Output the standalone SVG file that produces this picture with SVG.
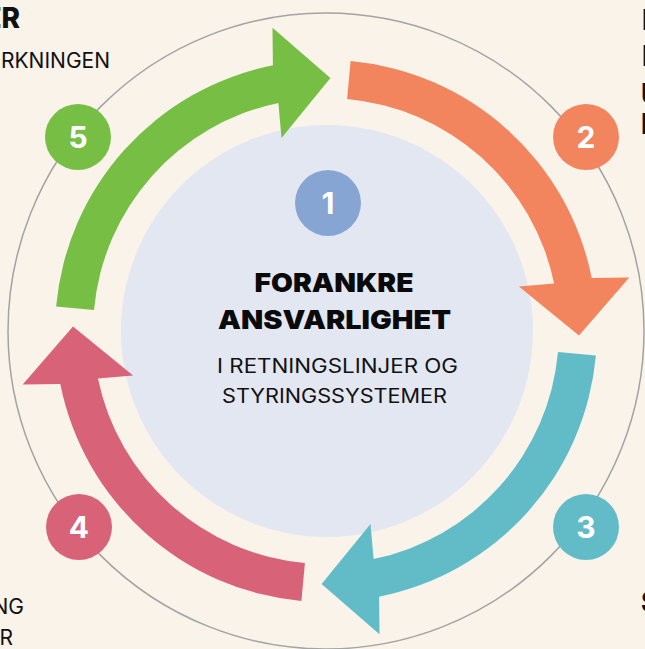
<svg xmlns="http://www.w3.org/2000/svg" width="645" height="649" viewBox="0 0 645 649">
<style>
.badge-num{font-family:Inter,"Liberation Sans",sans-serif;font-weight:700;font-size:30px;fill:#ffffff;text-anchor:middle}
.title{font-family:Inter,"Liberation Sans",sans-serif;font-weight:900;font-size:26px;fill:#0a0a0a;text-anchor:middle}
.sub{font-family:Inter,"Liberation Sans",sans-serif;font-weight:400;font-size:19.5px;fill:#111111;text-anchor:middle}
.side{font-family:Inter,"Liberation Sans",sans-serif;font-weight:400;font-size:21px;fill:#111111}
.side-b{font-family:Inter,"Liberation Sans",sans-serif;font-weight:800;font-size:28px;fill:#111111}
</style>
<defs>
<path id="arrow" d="M56.1,306.4 A271,271 0 0 1 272.9,65.3 L272.5,27.7 L330.4,78.0 L281.5,138.1 L278.4,102.9 A233,233 0 0 0 94.0,309.9 Z"/>
</defs>
<rect width="645" height="649" fill="#f9f3ea"/>
<g id="ring">
<circle cx="326" cy="331" r="318" fill="none" stroke="#a3a3a3" stroke-width="1.5"/>
</g>
<g id="center-node">
<circle cx="327" cy="331" r="206" fill="#e3e7f2"/>
</g>
<g id="connectors">
<use href="#arrow" fill="#76bf44"/>
<use href="#arrow" fill="#f2845e" transform="rotate(90 326 331)"/>
<use href="#arrow" fill="#62bcc7" transform="rotate(180 326 331)"/>
<use href="#arrow" fill="#d86278" transform="rotate(270 326 331)"/>
</g>
<g id="center-text">
<text class="title" x="334" y="292" textLength="159" lengthAdjust="spacingAndGlyphs">FORANKRE</text>
<text class="title" x="334.5" y="329" textLength="233" lengthAdjust="spacingAndGlyphs">ANSVARLIGHET</text>
<text class="sub" x="337.5" y="373" textLength="241" lengthAdjust="spacingAndGlyphs">I RETNINGSLINJER OG</text>
<text class="sub" x="334.5" y="403" textLength="225" lengthAdjust="spacingAndGlyphs">STYRINGSSYSTEMER</text>
</g>
<g id="badge-1"><circle cx="328" cy="203" r="33" fill="#87a5d2"/><text class="badge-num" x="328" y="214">1</text></g>
<g id="badge-2"><circle cx="586" cy="137" r="33" fill="#f2845e"/><text class="badge-num" x="586" y="148">2</text></g>
<g id="badge-3"><circle cx="586" cy="527" r="33" fill="#62bcc7"/><text class="badge-num" x="586" y="538">3</text></g>
<g id="badge-4"><circle cx="79" cy="527" r="33" fill="#d86278"/><text class="badge-num" x="79" y="538">4</text></g>
<g id="badge-5"><circle cx="78" cy="137" r="33" fill="#76bf44"/><text class="badge-num" x="78" y="148">5</text></g>
<g id="edge-text">
<text class="side-b" x="20" y="28" text-anchor="end">ER</text>
<text class="side" x="110" y="68" text-anchor="end">RKNINGEN</text>
<text class="side" x="24" y="614" text-anchor="end">NG</text>
<text class="side" x="13" y="645" text-anchor="end">R</text>
<text class="side-b" x="642" y="30">I</text>
<text class="side-b" x="642" y="66">I</text>
<text class="side-b" x="641" y="104" font-size="19">U</text>
<text class="side-b" x="641" y="134" font-size="19">I</text>
<text class="side-b" x="641" y="612" font-size="24">S</text>
</g>
</svg>
